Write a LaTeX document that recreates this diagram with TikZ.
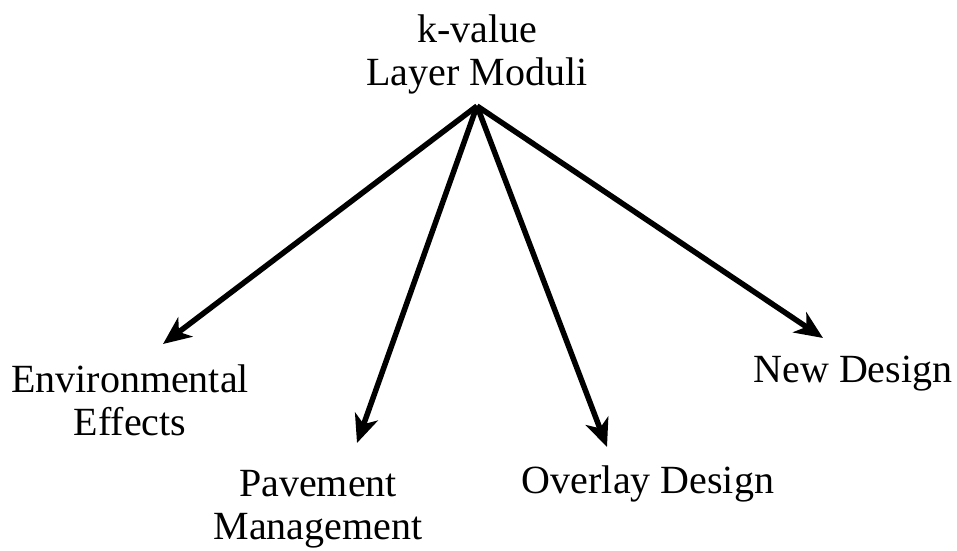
\documentclass[tikz,border=0pt]{standalone}
\usepackage{fontspec}
\setmainfont{Liberation Serif}
\usetikzlibrary{arrows.meta}
\begin{document}
\begin{tikzpicture}[x=1pt,y=-1pt,
  lbl/.style={align=center,anchor=base,inner sep=0pt,font=\fontsize{40}{43}\selectfont},
  arr/.style={line width=5.5pt,-{Stealth[length=28pt,width=24pt,inset=8pt]}}]
\useasboundingbox (0,0) rectangle (957,550);
\node[lbl] (top) at (477,85) {k-value\\Layer Moduli};
\coordinate (apex) at (477,106);
\node[lbl] (env) at (130,435) {Environmental\\Effects};
\node[lbl] (pav) at (318,539) {Pavement\\Management};
\node[lbl] (ovl) at (648,493) {Overlay Design};
\node[lbl] (new) at (853,382) {New Design};
\coordinate (tenv) at (163,344);
\coordinate (tpav) at (357,443);
\coordinate (tovl) at (607,447);
\coordinate (tnew) at (823,338);
\draw[arr] (apex) -- (tenv);
\draw[arr] (apex) -- (tpav);
\draw[arr] (apex) -- (tovl);
\draw[arr] (apex) -- (tnew);
\end{tikzpicture}
\end{document}
